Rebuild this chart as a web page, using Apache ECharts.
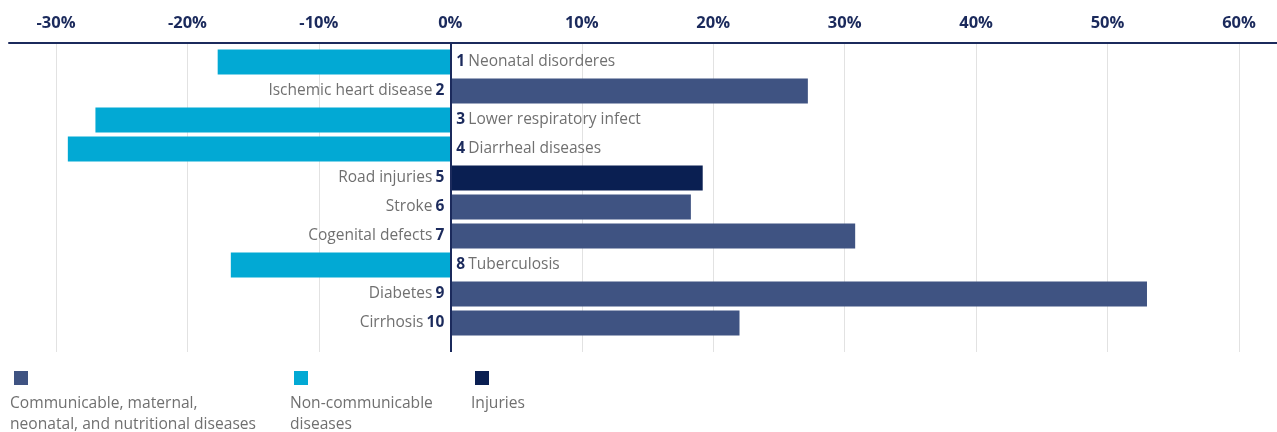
<!DOCTYPE html>
<html>
<head>
<meta charset="utf-8">
<script src="https://cdn.jsdelivr.net/npm/echarts@6/dist/echarts.min.js"></script>
<style>
html,body{margin:0;padding:0;background:#fff;}
#chart{width:1277px;height:432px;}
</style>
</head>
<body>
<div id="chart"></div>
<script>
// ---- data ----
const categories = ['Neonatal disorderes','Ischemic heart disease','Lower respiratory infect','Diarrheal diseases','Road injuries','Stroke','Cogenital defects','Tuberculosis','Diabetes','Cirrhosis'];
const ranks = [1,2,3,4,5,6,7,8,9,10];
const values = [-17.7, 27.2, -27.0, -29.1, 19.2, 18.3, 30.8, -16.7, 53.0, 22.0];
const groups = ['ncd','comm','ncd','ncd','inj','comm','comm','ncd','comm','comm'];
const tickValues = [-30,-20,-10,0,10,20,30,40,50,60];
const legendNames = {
  comm: 'Communicable, maternal,\nneonatal, and nutritional diseases',
  ncd: 'Non-communicable\ndiseases',
  inj: 'Injuries'
};
const groupColors = {comm:'#3F5382', ncd:'#02A9D4', inj:'#0A1F52'};

const FONT = '"Open Sans", sans-serif';
const NAVY = '#1B2A5C';
const GRAY = '#707070';

const chart = echarts.init(document.getElementById('chart'), null, {renderer:'canvas'});

const barData = values.map((v,i)=>({
  value: v,
  itemStyle: {color: groupColors[groups[i]]},
  label: {
    position: v >= 0 ? 'left' : 'right',
    formatter: v >= 0 ? '{t|' + categories[i] + '} {n|' + ranks[i] + '}' : '{n|' + ranks[i] + '} {t|' + categories[i] + '}'
  }
}));

const legendOrder = ['comm','ncd','inj'];
const legendX = [12, 292, 473];
const graphics = [];
legendOrder.forEach((g,i)=>{
  graphics.push({type:'rect', left: legendX[i]+2, top: 371, shape:{width:14,height:14}, style:{fill:groupColors[g]}});
  graphics.push({type:'text', left: legendX[i]-2, top: 393, style:{text: legendNames[g], fill:GRAY, font:'15.6px ' + FONT, lineHeight:21}});
});

const option = {
  backgroundColor:'#fff',
  animation:false,
  grid:[
    {left:56, right:38, top:43, height:309},   // ticks & grid lines
    {left:56, right:38, top:47.5, height:290}, // bars
    {left:9, right:0, top:43, height:309}      // full-width axis line
  ],
  xAxis:[
    {gridIndex:0, type:'value', position:'top', min:-30, max:60, interval:10,
     axisLine:{show:false}, axisTick:{show:false},
     axisLabel:{formatter:'{value}%', color:NAVY, fontWeight:'bold', fontSize:16.5, fontFamily:FONT, margin:11},
     splitLine:{show:true, lineStyle:{color:'#e2e2e2', width:1}}},
    {gridIndex:1, type:'value', min:-30, max:60, interval:10, show:false},
    {gridIndex:2, type:'value', position:'top', min:-33.6, max:62.9,
     axisLine:{show:true, lineStyle:{color:NAVY, width:2}}, axisTick:{show:false}, axisLabel:{show:false}, splitLine:{show:false}}
  ],
  yAxis:[
    {gridIndex:0, type:'category', data:[''], show:false},
    {gridIndex:1, type:'category', data:categories, inverse:true, show:false},
    {gridIndex:2, type:'category', data:[''], show:false}
  ],
  series:[
    {type:'bar', xAxisIndex:0, yAxisIndex:0, data:[],
     markLine:{symbol:'none', silent:true, label:{show:false},
       lineStyle:{color:NAVY, width:2, type:'solid'}, data:[{xAxis:0}]}},
    {type:'bar', xAxisIndex:1, yAxisIndex:1, data:barData, barWidth:25,
     label:{show:true, distance:6, color:GRAY, fontFamily:FONT,
       rich:{
         t:{color:GRAY, fontSize:15.5, fontFamily:FONT},
         n:{color:NAVY, fontSize:15.5, fontWeight:'bold', fontFamily:FONT}
       }}}
  ],
  graphic: graphics
};
chart.setOption(option);
</script>
</body>
</html>
